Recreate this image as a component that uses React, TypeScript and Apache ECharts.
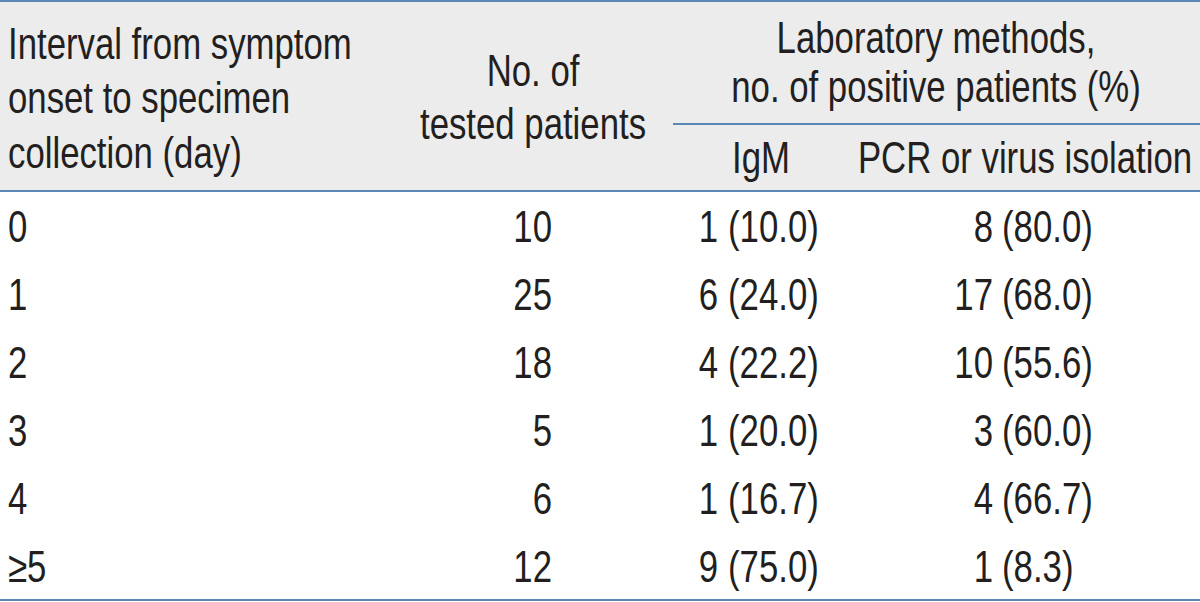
import React, { useEffect, useRef } from "react";
import * as echarts from "echarts";

const intervals = ["0", "1", "2", "3", "4", "≥5"];
const tested = [10, 25, 18, 5, 6, 12];
const igmPos = [1, 6, 4, 1, 1, 9];
const igmPct = ["10.0", "24.0", "22.2", "20.0", "16.7", "75.0"];
const pcrPos = [8, 17, 10, 3, 4, 1];
const pcrPct = ["80.0", "68.0", "55.6", "60.0", "66.7", "8.3"];

const headerCol1 = ["Interval from symptom", "onset to specimen", "collection (day)"];
const headerCol2 = ["No. of", "tested patients"];
const headerGroup = ["Laboratory methods,", "no. of positive patients (%)"];
const subHeaders = ["IgM", "PCR or virus isolation"];

const FONT_FAMILY = "'Liberation Sans', Arial, sans-serif";
const FS = 44;
const SX = 0.79;
const TEXT_COLOR = "#231f20";
const LINE_COLOR = "#5a87b3";
const HEADER_BG = "#ececec";

function txt(text: string, x: number, y: number, align: string) {
  return {
    type: "text",
    silent: true,
    x,
    y,
    scaleX: SX,
    style: {
      text,
      x: 0,
      y: 0,
      fill: TEXT_COLOR,
      font: `${FS}px ${FONT_FAMILY}`,
      textAlign: align,
      textVerticalAlign: "middle",
    },
  };
}

function line(x1: number, y1: number, x2: number, y2: number) {
  return {
    type: "line",
    silent: true,
    shape: { x1, y1, x2, y2 },
    style: { stroke: LINE_COLOR, lineWidth: 2 },
  };
}

export default function App() {
  const ref = useRef<HTMLDivElement>(null);
  useEffect(() => {
    document.body.style.margin = "0";
    if (!ref.current) return;
    const chart = echarts.init(ref.current, undefined, { renderer: "svg" });
    const els: any[] = [];
    els.push({
      type: "rect",
      silent: true,
      shape: { x: 0, y: 0, width: 1200, height: 191 },
      style: { fill: HEADER_BG },
    });
    headerCol1.forEach((t, i) => els.push(txt(t, 8, 43 + i * 54.5, "left")));
    headerCol2.forEach((t, i) => els.push(txt(t, 533, 70 + i * 53, "center")));
    headerGroup.forEach((t, i) => els.push(txt(t, 936, 37 + i * 49, "center")));
    els.push(txt(subHeaders[0], 761, 157, "center"));
    els.push(txt(subHeaders[1], 1025, 157, "center"));
    els.push(line(0, 1, 1200, 1));
    els.push(line(673, 124, 1200, 124));
    els.push(line(0, 191, 1200, 191));
    els.push(line(0, 600, 1200, 600));
    const rowH = 68;
    intervals.forEach((iv, i) => {
      const y = 226 + i * rowH;
      els.push(txt(iv, 8, y, "left"));
      els.push(txt(String(tested[i]), 552, y, "right"));
      els.push(txt(String(igmPos[i]), 718, y, "right"));
      els.push(txt(`(${igmPct[i]})`, 728, y, "left"));
      els.push(txt(String(pcrPos[i]), 993, y, "right"));
      els.push(txt(`(${pcrPct[i]})`, 1002, y, "left"));
    });
    chart.setOption({
      animation: false,
      backgroundColor: "#ffffff",
      graphic: { elements: els },
    });
    return () => chart.dispose();
  }, []);
  return <div ref={ref} style={{ width: 1200, height: 602 }} />;
}
